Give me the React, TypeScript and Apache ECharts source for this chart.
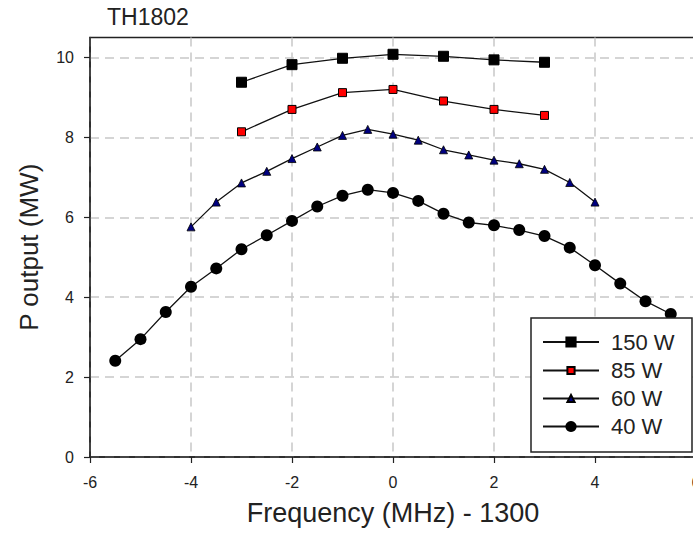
import React, { useEffect, useRef } from 'react';
import * as echarts from 'echarts';

const TITLE = 'TH1802';
const X_NAME = 'Frequency (MHz) - 1300';
const Y_NAME = 'P output (MW)';
const Y_TICKS = [0, 2, 4, 6, 8, 10];
const SERIES_NAMES = ['150 W', '85 W', '60 W', '40 W'];

const freq150 = [-3, -2, -1, 0, 1, 2, 3];
const pow150 = [9.38, 9.82, 9.98, 10.08, 10.03, 9.94, 9.88];

const freq85 = [-3, -2, -1, 0, 1, 2, 3];
const pow85 = [8.14, 8.7, 9.12, 9.2, 8.91, 8.7, 8.55];

const freq60 = [-4, -3.5, -3, -2.5, -2, -1.5, -1, -0.5, 0, 0.5, 1, 1.5, 2, 2.5, 3, 3.5, 4];
const pow60 = [5.76, 6.38, 6.86, 7.15, 7.47, 7.76, 8.05, 8.2, 8.08, 7.93, 7.69, 7.56, 7.43, 7.34, 7.2, 6.87, 6.38];

const freq40 = [-5.5, -5, -4.5, -4, -3.5, -3, -2.5, -2, -1.5, -1, -0.5, 0, 0.5, 1, 1.5, 2, 2.5, 3, 3.5, 4, 4.5, 5, 5.5];
const pow40 = [2.41, 2.95, 3.63, 4.26, 4.72, 5.2, 5.55, 5.91, 6.27, 6.54, 6.69, 6.61, 6.41, 6.09, 5.87, 5.8, 5.68, 5.53, 5.24, 4.8, 4.34, 3.9, 3.58];

const FF = '"Liberation Sans", Arial, Helvetica, sans-serif';
const TXT = '#222';

const pair = (xs: number[], ys: number[]) => xs.map((x, i) => [x, ys[i]]);

const LEG_CY = [342, 370.5, 398.5, 426.5];
const LEG_IH = [11.5, 9, 9, 14];

export default function App() {
  const ref = useRef<HTMLDivElement>(null);
  useEffect(() => {
    if (!ref.current) return;
    const chart = echarts.init(ref.current, undefined, { renderer: 'svg' });
    const lineStyle = { color: '#111', width: 1.3 };
    const option: any = {
      animation: false,
      title: {
        text: TITLE,
        left: 107,
        top: 5,
        padding: 0,
        textStyle: { fontFamily: FF, fontSize: 23, fontWeight: 'normal', color: TXT },
      },
      grid: {
        left: 90,
        top: 37.5,
        width: 606,
        bottom: 76,
        containLabel: false,
        outerBoundsMode: 'none',
        show: true,
        borderColor: '#222',
        borderWidth: 1.5,
        backgroundColor: 'transparent',
      },
      xAxis: {
        type: 'value',
        min: -6,
        max: 6,
        interval: 2,
        name: X_NAME,
        nameLocation: 'middle',
        nameGap: 42,
        nameTextStyle: { fontFamily: FF, fontSize: 27, color: TXT },
        axisLine: { show: true, onZero: false, lineStyle: { color: '#222', width: 1.5 } },
        axisTick: { show: true, inside: false, length: 6, lineStyle: { color: '#222', width: 1.2 } },
        axisLabel: { margin: 17, fontSize: 16, color: TXT, fontFamily: FF },
        splitLine: { show: true, lineStyle: { color: '#c8c8c8', type: [9, 6], width: 1.5 } },
      },
      yAxis: {
        type: 'value',
        min: 0,
        max: 10.5,
        interval: 2,
        name: Y_NAME,
        nameLocation: 'middle',
        nameGap: 48,
        nameTextStyle: { fontFamily: FF, fontSize: 26, color: TXT },
        axisLine: { show: true, onZero: false, lineStyle: { color: '#222', width: 1.5 } },
        axisTick: { show: true, inside: false, length: 6, customValues: Y_TICKS, lineStyle: { color: '#222', width: 1.2 } },
        axisLabel: { margin: 16, fontSize: 16, color: TXT, fontFamily: FF, customValues: Y_TICKS },
        splitLine: { show: true, lineStyle: { color: '#c8c8c8', type: [9, 6], width: 1.5 } },
      },
      legend: SERIES_NAMES.map((name, i) => ({
        data: [name],
        orient: 'vertical',
        left: 542,
        top: LEG_CY[i] - 11,
        padding: 0,
        itemWidth: 56,
        itemHeight: LEG_IH[i],
        selectedMode: false,
        z: 10,
        textStyle: { fontSize: 22, lineHeight: 22, color: TXT, fontFamily: FF, padding: [0, 0, 0, 7] },
      })),
      graphic: [
        {
          type: 'rect',
          z: 5,
          shape: { x: 531, y: 318, width: 161, height: 134 },
          style: { fill: '#fff', stroke: '#222', lineWidth: 1.5 },
        },
      ],
      series: [
        {
          name: SERIES_NAMES[0],
          type: 'line',
          data: pair(freq150, pow150),
          symbol: 'rect',
          symbolSize: 10,
          itemStyle: { color: '#000', borderColor: '#000', borderWidth: 1 },
          lineStyle,
        },
        {
          name: SERIES_NAMES[1],
          type: 'line',
          data: pair(freq85, pow85),
          symbol: 'rect',
          symbolSize: 8,
          itemStyle: { color: '#ff0000', borderColor: '#000', borderWidth: 1 },
          lineStyle,
        },
        {
          name: SERIES_NAMES[2],
          type: 'line',
          data: pair(freq60, pow60),
          symbol: 'triangle',
          symbolSize: 8,
          itemStyle: { color: '#000080', borderColor: '#000', borderWidth: 0.8 },
          lineStyle,
        },
        {
          name: SERIES_NAMES[3],
          type: 'line',
          data: pair(freq40, pow40),
          symbol: 'circle',
          symbolSize: 12,
          itemStyle: { color: '#000', borderColor: '#000', borderWidth: 0 },
          lineStyle,
        },
      ],
    };
    chart.setOption(option);
    return () => chart.dispose();
  }, []);
  return (
    <div
      ref={ref}
      style={{ position: 'fixed', left: 0, top: 0, width: 693, height: 533, background: '#fff' }}
    />
  );
}
